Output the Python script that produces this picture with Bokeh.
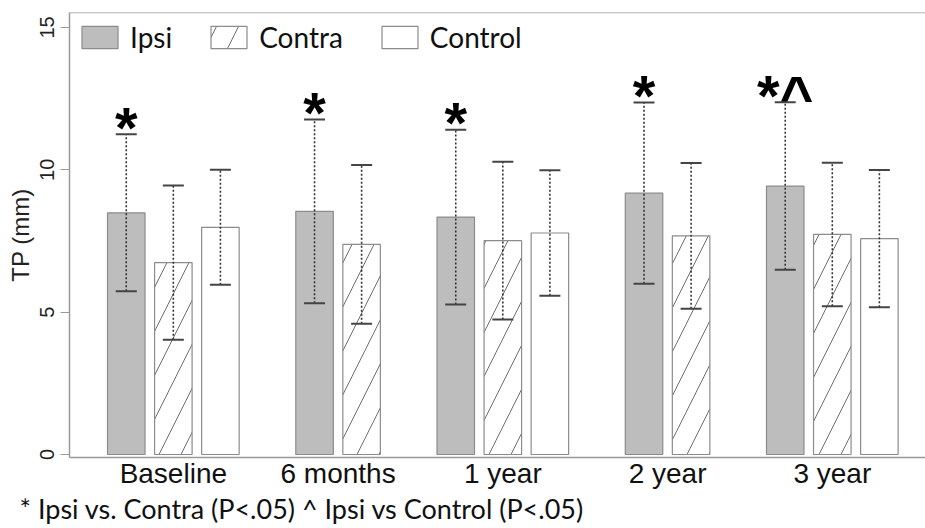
import numpy as np
from bokeh.plotting import figure
from bokeh.models import (ColumnDataSource, Whisker, TeeHead, Legend, LegendItem,
                          FixedTicker, Span, Title, Range1d)
from bokeh.core.properties import value
from bokeh.embed import file_html
from bokeh.resources import INLINE

# ---- data ----
groups = ["Baseline", "6 months", "1 year", "2 year", "3 year"]
ipsi_mean = [8.49, 8.54, 8.34, 9.18, 9.43]
ipsi_sd = [2.76, 3.23, 3.07, 3.18, 2.94]
contra_mean = [6.74, 7.38, 7.51, 7.68, 7.73]
contra_sd = [2.71, 2.79, 2.77, 2.56, 2.52]
control_mean = [7.98, None, 7.78, None, 7.58]
control_sd = [2.02, None, 2.20, None, 2.41]
sig_labels = ["*", "*", "*", "*", "*^"]
y_ticks = [0, 5, 10, 15]
footnote = "* Ipsi vs. Contra (P<.05) ^ Ipsi vs Control (P<.05)"

# ---- slot layout: bars side by side, one empty slot between groups ----
series = [("Ipsi", ipsi_mean, ipsi_sd), ("Contra", contra_mean, contra_sd),
          ("Control", control_mean, control_sd)]
cols = {name: dict(x=[], top=[], upper=[], lower=[]) for name, _, _ in series}
centers = []
ipsi_x = []
ipsi_up = []
pos = 0
for gi in range(len(groups)):
    gx = []
    for name, m, s in series:
        if m[gi] is None:
            continue
        cols[name]["x"].append(pos)
        cols[name]["top"].append(m[gi])
        cols[name]["upper"].append(m[gi] + s[gi])
        cols[name]["lower"].append(m[gi] - s[gi])
        if name == "Ipsi":
            ipsi_x.append(pos)
            ipsi_up.append(m[gi] + s[gi])
        gx.append(pos)
        pos += 1
    centers.append(float(np.mean(gx)))
    pos += 1

p = figure(width=925, height=528, output_backend="svg", toolbar_location=None,
           x_range=Range1d(-1.206, 16.98), y_range=Range1d(-0.105, 15.525),
           min_border_left=69, min_border_right=0, min_border_top=12,
           min_border_bottom=71)
p.outline_line_color = None
p.xgrid.visible = False
p.ygrid.visible = False
p.background_fill_color = "white"

axis_col = "#9a9a9a"
bar_line = "#8c8c8c"
styles = {
    "Ipsi": dict(fill_color="#bdbdbd"),
    "Contra": dict(fill_color="white", hatch_pattern="/", hatch_color="#6e6e6e",
                   hatch_scale=44, hatch_weight=1),
    "Control": dict(fill_color="white"),
}
renderers = {}
for name, _, _ in series:
    src = ColumnDataSource(cols[name])
    r = p.vbar(x="x", top="top", bottom=0, width=0.797, source=src,
               line_color=bar_line, line_width=1.2, **styles[name])
    renderers[name] = r
    w = Whisker(source=src, base="x", upper="upper", lower="lower",
                line_color="#333333", line_width=1.6, line_dash="2 2",
                upper_head=TeeHead(size=21, line_color="#444444", line_width=2),
                lower_head=TeeHead(size=21, line_color="#444444", line_width=2),
                level="annotation")
    p.add_layout(w)

# significance markers
p.text(x=ipsi_x, y=ipsi_up, text=sig_labels, text_font=value("Liberation Sans"),
       text_font_style="bold", text_font_size="58px", text_align="center",
       text_baseline="alphabetic", y_offset=-7, text_color="black")

# top frame line
p.add_layout(Span(location=15.525, dimension="width", line_color=axis_col,
                  line_width=1.5))

# legend
legend = Legend(items=[LegendItem(label=n, renderers=[renderers[n]]) for n, _, _ in series],
                orientation="horizontal", location="top_left", glyph_width=45,
                glyph_height=28, label_height=28, label_standoff=8, spacing=34,
                margin=8, padding=0, border_line_color=None,
                background_fill_alpha=0, label_text_font="Lato",
                label_text_font_size="28px", label_text_line_height=1.0,
                label_text_color="#111111")
p.add_layout(legend)

# y axis
p.yaxis.ticker = FixedTicker(ticks=y_ticks)
p.yaxis.minor_tick_line_color = None
p.yaxis.major_tick_out = 9
p.yaxis.major_tick_in = 0
p.yaxis.major_tick_line_color = axis_col
p.yaxis.axis_line_color = axis_col
p.yaxis.axis_line_width = 1.5
p.yaxis.major_label_orientation = "vertical"
p.yaxis.major_label_text_font = "Liberation Sans"
p.yaxis.major_label_text_font_size = "20px"
p.yaxis.major_label_text_color = "#222222"
p.yaxis.major_label_standoff = 6
p.yaxis.axis_label = "TP (mm)"
p.yaxis.axis_label_text_font = "Liberation Sans"
p.yaxis.axis_label_text_font_size = "24px"
p.yaxis.axis_label_text_font_style = "normal"
p.yaxis.axis_label_text_color = "#222222"
p.yaxis.axis_label_standoff = 4

# x axis
p.xaxis.ticker = FixedTicker(ticks=centers)
p.xaxis.major_label_overrides = {c: g for c, g in zip(centers, groups)}
p.xaxis.minor_tick_line_color = None
p.xaxis.major_tick_line_color = None
p.xaxis.major_tick_out = 0
p.xaxis.major_tick_in = 0
p.xaxis.axis_line_color = axis_col
p.xaxis.axis_line_width = 1.5
p.xaxis.major_label_text_font = "Liberation Sans"
p.xaxis.major_label_text_font_size = "28px"
p.xaxis.major_label_text_color = "#111111"
p.xaxis.major_label_standoff = 0

# footnote (below the x axis labels)
p.add_layout(Title(text=footnote, align="left", offset=-50, standoff=0,
                   vertical_align="top", text_font="Lato",
                   text_font_size="27px", text_font_style="normal",
                   text_line_height=1.0, text_color="#111111"), "below")

open("out.html", "w").write(file_html(p, INLINE))
